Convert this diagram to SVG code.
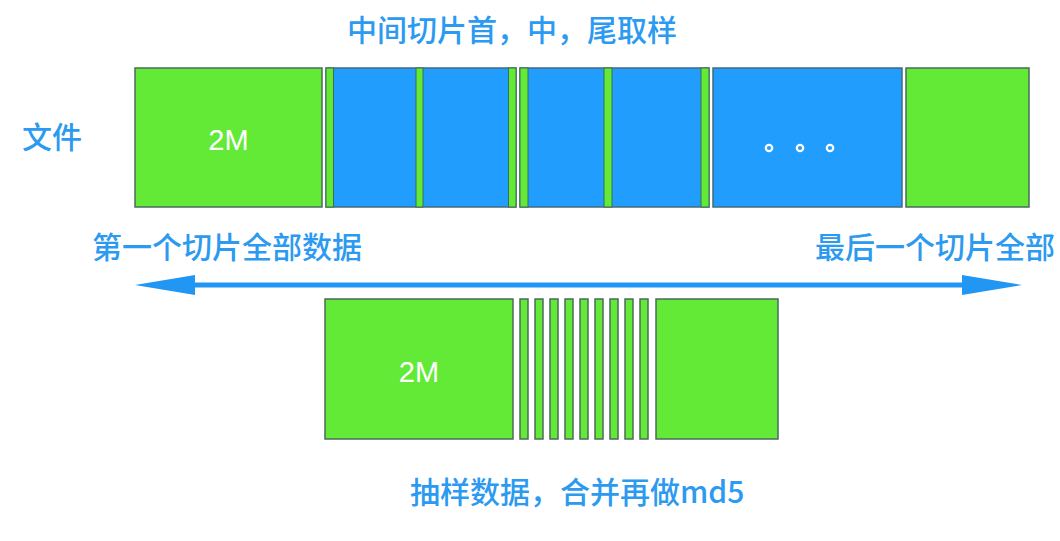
<svg xmlns="http://www.w3.org/2000/svg" width="1060" height="541" viewBox="0 0 1060 541">
<style>
.g{fill:#62ea37;stroke:#4d6a5c;stroke-width:1.5}
.b{fill:#219efd;stroke:#466a80;stroke-width:1.5}
.s{fill:#62ea37;stroke:#3f6a55;stroke-width:1}
.lbl{font-family:"Noto Sans CJK SC","Noto Sans",sans-serif;font-size:30px;font-weight:500;fill:#2b9af0}
.w{font-family:"Liberation Sans",Arial,sans-serif;font-size:29px;fill:#ffffff}
.dot{fill:none;stroke:#ffffff;stroke-width:2.2}
</style>
<defs>
<marker id="ah" viewBox="0 0 60 20" markerWidth="60" markerHeight="20" markerUnits="userSpaceOnUse" refX="0" refY="10" orient="auto-start-reverse">
<path d="M0,0 L60,10 L0,20 Z" fill="#2196f3"/>
</marker>
</defs>
<rect width="1060" height="541" fill="#ffffff"/>
<text id="title" class="lbl" x="512" y="41" text-anchor="middle">中间切片首，中，尾取样</text>
<text id="file" class="lbl" x="22" y="148">文件</text>
<g id="slice1"><rect class="g" x="135" y="68" width="187" height="139"/><text class="w" x="228.5" y="150" text-anchor="middle">2M</text></g>
<g id="sliceA"><rect class="b" x="326" y="68" width="190" height="139"/><rect class="s" x="326" y="68" width="7.5" height="139"/><rect class="s" x="416" y="68" width="7" height="139"/><rect class="s" x="508.5" y="68" width="7.5" height="139"/></g>
<g id="sliceB"><rect class="b" x="520" y="68" width="189" height="139"/><rect class="s" x="520" y="68" width="8" height="139"/><rect class="s" x="604" y="68" width="8" height="139"/><rect class="s" x="701" y="68" width="8" height="139"/></g>
<g id="sliceC"><rect class="b" x="713" y="68" width="189" height="139"/><circle class="dot" cx="769" cy="148" r="3.2"/><circle class="dot" cx="800" cy="148" r="3.2"/><circle class="dot" cx="830" cy="148" r="3.2"/></g>
<g id="sliceLast"><rect class="g" x="906" y="68" width="123" height="139"/></g>
<text id="firstLabel" class="lbl" x="92" y="258">第一个切片全部数据</text>
<text id="lastLabel" class="lbl" x="815" y="258">最后一个切片全部</text>
<g id="connectors"><path d="M195,285 L962,285" stroke="#2196f3" stroke-width="5" fill="none" marker-start="url(#ah)" marker-end="url(#ah)"/></g>
<g id="sample1"><rect class="g" x="325" y="299" width="188" height="140"/><text class="w" x="419" y="382" text-anchor="middle">2M</text></g>
<g id="strips">
<rect class="g" x="520" y="299" width="8" height="140"/>
<rect class="g" x="535" y="299" width="8" height="140"/>
<rect class="g" x="550" y="299" width="8" height="140"/>
<rect class="g" x="565" y="299" width="8" height="140"/>
<rect class="g" x="580" y="299" width="8" height="140"/>
<rect class="g" x="595" y="299" width="8" height="140"/>
<rect class="g" x="610" y="299" width="8" height="140"/>
<rect class="g" x="625" y="299" width="8" height="140"/>
<rect class="g" x="640" y="299" width="8" height="140"/>
</g>
<g id="sampleLast"><rect class="g" x="656" y="299" width="122" height="140"/></g>
<text id="bottomLabel" class="lbl" x="410" y="503">抽样数据，合并再做md5</text>
</svg>
